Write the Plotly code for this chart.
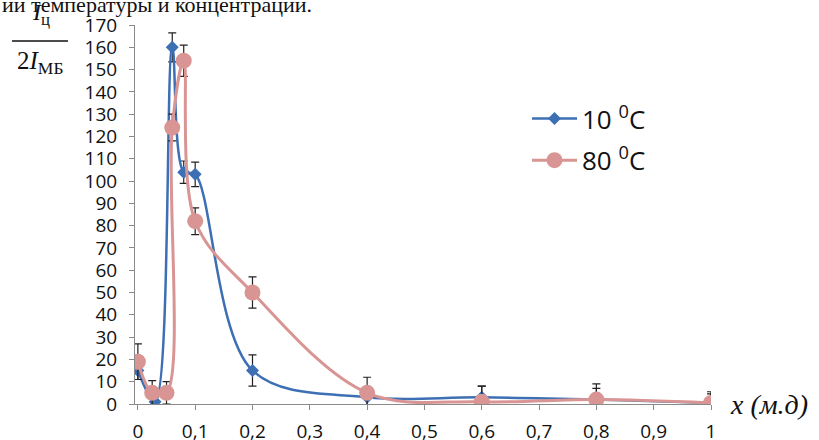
import plotly.graph_objects as go

# ---- data ----
x_10 = [0, 0.03, 0.06, 0.08, 0.1, 0.2, 0.4, 0.6, 0.8, 1.0]
y_10 = [15, 1, 160, 104, 103, 15, 3, 3, 2, 0.5]
err_10 = [4, 2, 6.5, 5, 5.5, 7, 4, 5, 5, 4]

x_80 = [0, 0.025, 0.05, 0.06, 0.08, 0.1, 0.2, 0.4, 0.6, 0.8, 1.0]
y_80 = [19, 5, 5, 124, 154, 82, 50, 5, 1, 2, 0.5]
err_80 = [8, 5.5, 5, 6, 7, 6, 7, 7, 7, 7, 5]

x_ticks = [0, 0.1, 0.2, 0.3, 0.4, 0.5, 0.6, 0.7, 0.8, 0.9, 1.0]
x_ticktext = ["0", "0,1", "0,2", "0,3", "0,4", "0,5", "0,6", "0,7", "0,8", "0,9", "1"]
y_ticks = list(range(0, 171, 10))

series_names = ["10 <sup>0</sup>C", "80 <sup>0</sup>C"]

BLUE = "#3d6fb4"
PINK = "#d99594"

W, H = 819, 440
L, R, T, B = 135, 108, 25, 36
PW, PH = W - L - R, H - T - B


def px(xp):
    return (xp - L) / PW


def py(yp):
    return (H - B - yp) / PH


fig = go.Figure()
fig.add_trace(go.Scatter(
    x=x_10, y=y_10, name=series_names[0], mode="lines+markers", legendgroup="a",
    line=dict(color=BLUE, width=2.5, shape="spline", smoothing=1),
    marker=dict(symbol="diamond", size=10, color=BLUE),
    error_y=dict(type="data", array=err_10, color="#222222", thickness=1.2, width=4),
))
fig.add_trace(go.Scatter(
    x=x_80, y=y_80, name=series_names[1], mode="lines+markers", legendgroup="b",
    line=dict(color=PINK, width=3, shape="spline", smoothing=1),
    marker=dict(symbol="circle", size=16, color=PINK),
    error_y=dict(type="data", array=err_80, color="#222222", thickness=1.2, width=4),
))

fig.update_layout(
    width=W, height=H,
    margin=dict(l=L, r=R, t=T, b=B, pad=0, autoexpand=False),
    paper_bgcolor="white", plot_bgcolor="white",
    font=dict(family="Open Sans", size=19, color="#111111"),
    showlegend=True,
    legend=dict(
        x=px(527), y=py(95), xanchor="left", yanchor="top",
        font=dict(family="Open Sans", size=26, color="#111111"),
        bgcolor="rgba(0,0,0,0)", itemwidth=45, tracegroupgap=5,
    ),
    xaxis=dict(
        range=[-0.005, 1.0], showgrid=False, zeroline=False,
        showline=True, linecolor="#8a8a8a", linewidth=1,
        ticks="outside", ticklen=5, tickcolor="#8a8a8a",
        tickvals=x_ticks, ticktext=x_ticktext,
        tickfont=dict(family="Open Sans", size=19, color="#111111"),
        ticklabelstandoff=5,
    ),
    yaxis=dict(
        range=[0, 170], showgrid=False, zeroline=False,
        showline=True, linecolor="#8a8a8a", linewidth=1,
        ticks="outside", ticklen=5, tickcolor="#8a8a8a",
        tickvals=y_ticks,
        tickfont=dict(family="Open Sans", size=19, color="#111111"),
        ticklabelstandoff=8,
    ),
)

serif = "Liberation Serif"
# y-axis title as fraction
fig.add_annotation(xref="paper", yref="paper", x=px(41), y=py(14),
                   text="<i>I</i><sub>ц</sub>", showarrow=False,
                   font=dict(family=serif, size=24, color="#111111"),
                   xanchor="center", yanchor="middle")
fig.add_annotation(xref="paper", yref="paper", x=px(40), y=py(62),
                   text="2<i>I</i><sub>МБ</sub>", showarrow=False,
                   font=dict(family=serif, size=25, color="#111111"),
                   xanchor="center", yanchor="middle")
fig.add_shape(type="line", xref="paper", yref="paper",
              x0=px(12), x1=px(68), y0=py(41), y1=py(41),
              line=dict(color="#111111", width=1.5))
# x-axis title
fig.add_annotation(xref="paper", yref="paper", x=px(728), y=py(404),
                   text="<i>x (м.д)</i>", showarrow=False,
                   font=dict(family=serif, size=28, color="#111111"),
                   xanchor="left", yanchor="middle")
# cropped caption line at the very top
fig.add_annotation(xref="paper", yref="paper", x=px(0), y=py(0),
                   text="ии температуры и концентрации.", showarrow=False,
                   font=dict(family=serif, size=22, color="#111111"),
                   xanchor="left", yanchor="top", yshift=10)

fig.write_html("out.html")
